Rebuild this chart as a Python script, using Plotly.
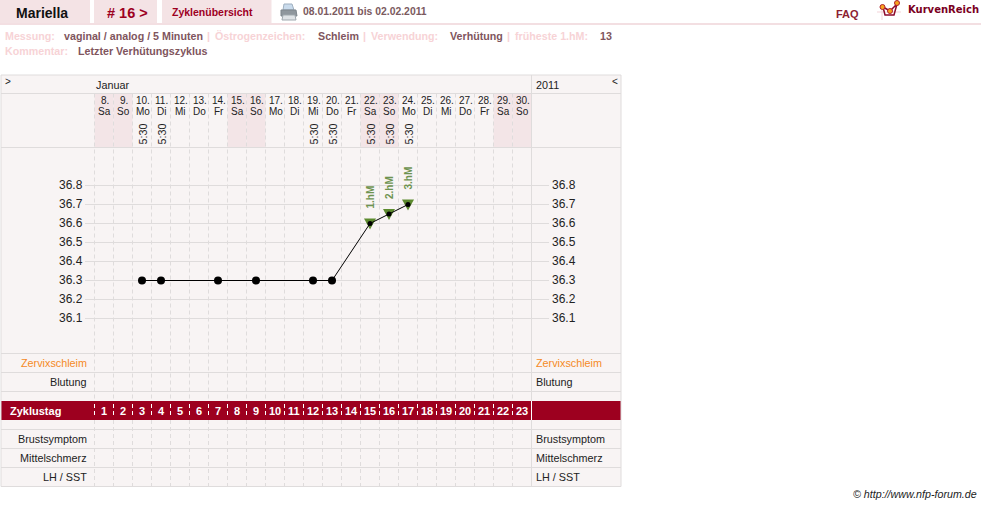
import plotly.graph_objects as go

W, H = 981, 506

# ---- data ----
cycle_days = list(range(1, 24))
dates = [8, 9, 10, 11, 12, 13, 14, 15, 16, 17, 18, 19, 20, 21, 22, 23, 24, 25, 26, 27, 28, 29, 30]
weekdays = ["Sa", "So", "Mo", "Di", "Mi", "Do", "Fr", "Sa", "So", "Mo", "Di", "Mi", "Do", "Fr", "Sa", "So", "Mo", "Di", "Mi", "Do", "Fr", "Sa", "So"]
measure_days = [3, 4, 7, 9, 12, 13, 15, 16, 17]
temps = [36.3, 36.3, 36.3, 36.3, 36.3, 36.3, 36.6, 36.65, 36.7]
time_days = [3, 4, 12, 13, 15, 16, 17]
hm_days = [15, 16, 17]
hm_temps = [36.6, 36.65, 36.7]
hm_labels = ["1.hM", "2.hM", "3.hM"]
time_label = "5:30"
temp_ticks = [36.8, 36.7, 36.6, 36.5, 36.4, 36.3, 36.2, 36.1]
weekend = ["Sa", "So"]

RED = "#9d001f"
PANEL = "#f8f4f4"
LINE = "#dfdcdc"
PINK = "#f4e3e5"
WEEKEND = "#f3e5e7"
GREEN = "#5c8a2e"
FONT = "Liberation Sans"

def fx(p): return p / W
def fy(p): return 1 - p / H
def day_left(d): return 94.5 + 19 * (d - 1)

shapes, annos = [], []

def rect(x0, y0, x1, y1, fill, line=None, layer="below"):
    shapes.append(dict(type="rect", xref="paper", yref="paper", x0=fx(x0), x1=fx(x1), y0=fy(y0), y1=fy(y1),
                       fillcolor=fill, line=dict(width=1 if line else 0, color=line or fill), layer=layer))

def hline(y, x0, x1, color=LINE, width=1):
    shapes.append(dict(type="line", xref="paper", yref="paper", x0=fx(x0), x1=fx(x1), y0=fy(y), y1=fy(y),
                       line=dict(color=color, width=width), layer="below"))

def vline(x, y0, y1, color=LINE, width=1, dash=None):
    shapes.append(dict(type="line", xref="paper", yref="paper", x0=fx(x), x1=fx(x), y0=fy(y0), y1=fy(y1),
                       line=dict(color=color, width=width, dash=dash), layer="below"))

def path(d, fill, line=None):
    shapes.append(dict(type="path", xref="paper", yref="paper", path=d, fillcolor=fill,
                       line=dict(width=1 if line else 0, color=line or fill), layer="below"))

def P(*pts):
    return "M" + " L".join(f"{fx(x):.5f},{fy(y):.5f}" for x, y in pts) + " Z"

def text(x, y, s, size=11, color="#222222", bold=False, anchor="left", angle=0, italic=False, family=FONT):
    if bold: s = f"<b>{s}</b>"
    if italic: s = f"<i>{s}</i>"
    annos.append(dict(xref="paper", yref="paper", x=fx(x), y=fy(y), text=s, showarrow=False, xanchor=anchor,
                      yanchor="middle", textangle=angle, font=dict(size=size, color=color, family=family),
                      borderpad=0, borderwidth=0))

# ---- header ----
rect(0, 0, 90, 23, PINK)
rect(94, 0, 157, 23, PINK)
rect(162, 0, 271.5, 23, PINK)
hline(24, 0, 981, "#f3dfe2", 2)
text(16, 13, "Mariella", 14, "#111111", True)
text(107, 13, "# 16 &gt;", 14.5, RED, True)
text(172, 12, "Zyklenübersicht", 10.5, RED, True)
text(303, 12, "08.01.2011 bis 02.02.2011", 10.4, "#7b5a60", True)
text(836, 14, "FAQ", 11, "#8c2232", True)
text(908, 10, "KurvenReich", 10, "#7a0022", True, family="DejaVu Sans")

# printer icon
path(P((284, 4), (292, 4), (294, 10), (283, 10)), "#c9dbec", "#9fb0c0")
path(P((281, 10), (296, 10), (297, 16), (281, 16)), "#8f979d", "#7e868c")
path(P((283, 15), (295, 15), (296, 20), (282, 20)), "#dfe3e6", "#a0a8ae")
# logo icon
hline(12, 877, 901, "#f3d3d8")
vline(882, 8, 20, "#f3d3d8")
shapes.append(dict(type="path", xref="paper", yref="paper", layer="below", line=dict(color="#8c0a2c", width=1.5),
                   path="M%.5f,%.5f L%.5f,%.5f L%.5f,%.5f L%.5f,%.5f L%.5f,%.5f" % (
                       fx(883), fy(7), fx(885), fy(15), fx(894), fy(15), fx(897), fy(4), fx(890), fy(11))))
shapes.append(dict(type="path", xref="paper", yref="paper", layer="below", line=dict(color="#8c0a2c", width=1.5),
                   path="M%.5f,%.5f L%.5f,%.5f" % (fx(883), fy(7), fx(890), fy(11))))
for cx, cy in [(882.5, 7), (890, 11), (897, 3)]:
    shapes.append(dict(type="circle", xref="paper", yref="paper", layer="below",
                       x0=fx(cx - 2.5), x1=fx(cx + 2.5), y0=fy(cy + 2.5), y1=fy(cy - 2.5), fillcolor="#f6a51e",
                       line=dict(width=1, color="#b0202c")))

LBL = "#f7d3d6"
VAL = "#80555d"
y1 = 36
for x, s, c in [(5, "Messung:", LBL), (64, "vaginal / analog / 5 Minuten", VAL), (207, "|", LBL),
                (215, "Östrogenzeichen:", LBL), (318, "Schleim", VAL), (363, "|", LBL),
                (371, "Verwendung:", LBL), (450, "Verhütung", VAL), (507, "|", LBL),
                (515, "früheste 1.hM:", LBL), (600, "13", VAL)]:
    text(x, y1, s, 10.7, c, True)
text(5, 51, "Kommentar:", 10.7, LBL, True)
text(78, 51, "Letzter Verhütungszyklus", 10.7, VAL, True)

# ---- table ----
L, SEP, R = 1, 531.5, 621
rect(L, 75, R, 486.5, PANEL)
for d, wd in zip(cycle_days, weekdays):
    if wd in weekend:
        rect(day_left(d), 93, day_left(d) + 19, 147.5, WEEKEND)
rect(L, 401, R, 420, RED)
for y in [75, 93.5, 147.5, 353.5, 372.5, 391.5, 429.5, 448.5, 467.5, 486.5]:
    hline(y, L, R)
vline(L, 75, 486.5)
vline(R, 75, 486.5)
vline(SEP, 75, 486.5)
vline(SEP, 401, 420, "#ffffff")

for d in cycle_days:
    x = day_left(d)
    vline(x, 93.5, 401, dash="4px,3px")
    vline(x, 404, 418, "#ffffff", dash="4px,3px")
    vline(x, 420, 486.5, dash="4px,3px")

text(5, 82, "&gt;", 10, "#222222")
text(96, 85, "Januar", 10.8)
text(536, 85, "2011", 10.8)
text(612, 82, "&lt;", 10, "#222222")

for d, dt, wd in zip(cycle_days, dates, weekdays):
    cx = day_left(d) + 10
    text(cx, 101, f"{dt}.", 10, anchor="center")
    text(cx, 111, wd, 10, anchor="center")
    if d in time_days:
        text(cx - 0.5, 134.5, time_label, 10.8, anchor="center", angle=-90)
    text(cx - 0.5, 410.5, str(d), 11, "#ffffff", True, anchor="center")

for y, s, c in [(363, "Zervixschleim", "#f58a1f"), (382, "Blutung", "#222222"),
                (439, "Brustsymptom", "#222222"), (458, "Mittelschmerz", "#222222"), (477, "LH / SST", "#222222")]:
    text(86.5, y, s, 10.8, c, anchor="right")
    text(536, y, s, 10.8, c)
text(10, 410.5, "Zyklustag", 11, "#ffffff", True)
text(977, 494, "© http://www.nfp-forum.de", 10.7, "#222222", anchor="right", italic=True)

# temperature grid and tick labels through the y axis
for t in temp_ticks:
    shapes.append(dict(type="line", xref="paper", yref="y", x0=fx(85), x1=fx(549), y0=t, y1=t,
                       line=dict(color=LINE, width=1), layer="below"))
    annos.append(dict(xref="paper", yref="y", x=fx(84.5), y=t, text=f"{t:.1f}", showarrow=False, xanchor="right",
                      yshift=1, font=dict(size=12, color="#222222", family=FONT)))
    annos.append(dict(xref="paper", yref="y", x=fx(550), y=t, text=f"{t:.1f}", showarrow=False, xanchor="left",
                      yshift=1, font=dict(size=12, color="#222222", family=FONT)))

# green triangles for the temperature rise, anchored on the data
for d, t in zip(hm_days, hm_temps):
    shapes.append(dict(type="path", xref="x", yref="y", xsizemode="pixel", ysizemode="pixel",
                       xanchor=d, yanchor=t, path="M-6,5 L6,5 L0,-6 Z", fillcolor=GREEN,
                       line=dict(width=0), layer="below"))

low_days = [d for d in measure_days if d not in hm_days]
low_temps = [t for d, t in zip(measure_days, temps) if d not in hm_days]

fig = go.Figure()
fig.add_trace(go.Scatter(x=measure_days, y=temps, mode="lines", hoverinfo="skip",
                         line=dict(color="#000000", width=1)))
fig.add_trace(go.Scatter(x=low_days, y=low_temps, mode="markers", hoverinfo="skip",
                         marker=dict(symbol="circle", color="#000000", size=8)))
fig.add_trace(go.Scatter(x=hm_days, y=hm_temps, mode="markers", hoverinfo="skip",
                         marker=dict(symbol="circle", color="#000000", size=5)))
for d, t, s in zip(hm_days, hm_temps, hm_labels):
    annos.append(dict(xref="x", yref="y", x=d, y=t, text=f"<b>{s}</b>", showarrow=False, textangle=-90,
                      yshift=26, font=dict(size=10, color="#6e9350", family=FONT)))

# axes map the cycle day and temperature straight onto the page
x_lo = (0 - 94.5) / 19 + 0.5
x_hi = (W - 94.5) / 19 + 0.5
y_hi = 36.8 + (185.5 - 0) / 190
y_lo = 36.8 - (H - 185.5) / 190
fig.update_layout(width=W, height=H, margin=dict(l=0, r=0, t=0, b=0), paper_bgcolor="#ffffff", plot_bgcolor="rgba(0,0,0,0)",
                  showlegend=False, shapes=shapes, annotations=annos, hovermode=False,
                  xaxis=dict(range=[x_lo, x_hi], visible=False, fixedrange=True),
                  yaxis=dict(range=[y_lo, y_hi], visible=False, fixedrange=True))
fig.write_html("out.html", config=dict(displayModeBar=False),
               post_script="document.body.style.margin='0';")
